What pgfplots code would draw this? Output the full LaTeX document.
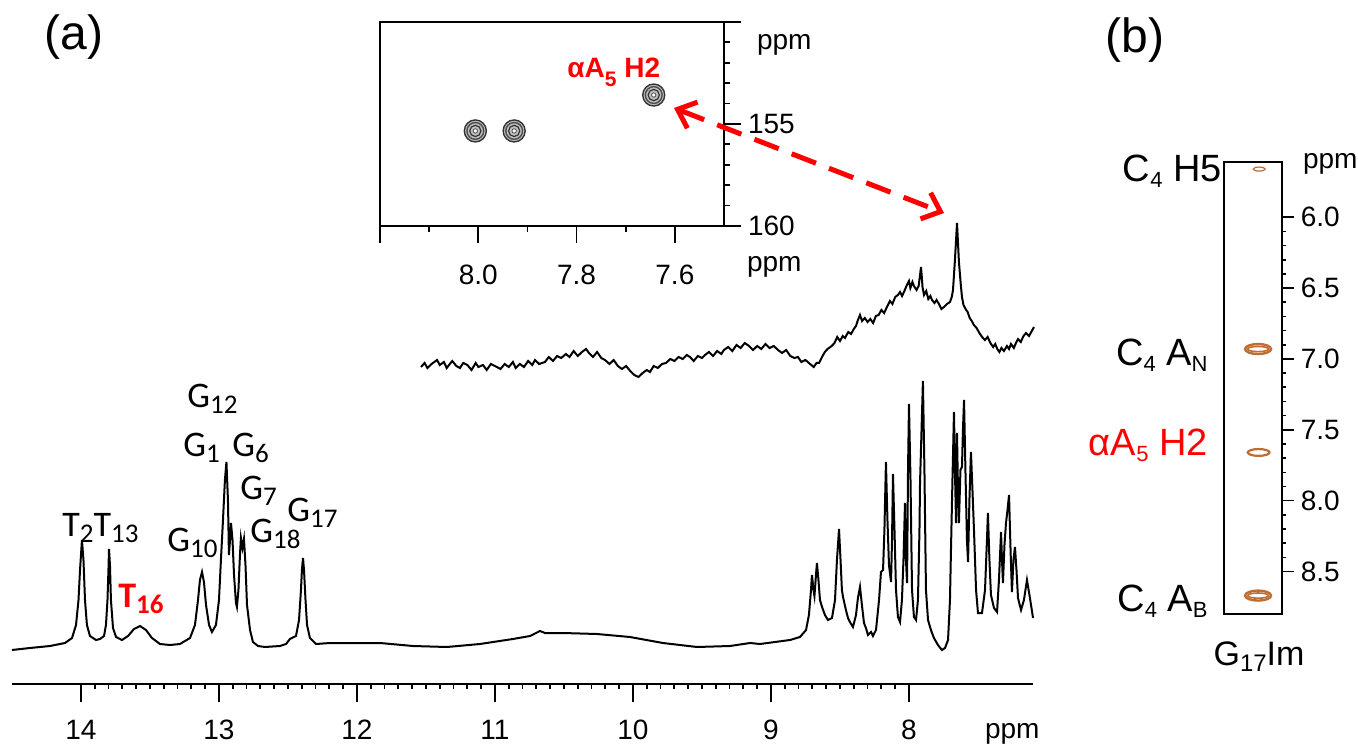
\documentclass[border=0pt]{standalone}
\usepackage{fontspec}
\setmainfont{Liberation Sans}
\newfontfamily\calib{Carlito}
\usepackage{pgfplots}
\pgfplotsset{compat=1.18}
\usetikzlibrary{arrows.meta}
\definecolor{brn}{RGB}{190,110,50}
\newcommand{\lab}[2]{#1\raisebox{-3pt}{\fontsize{13.5}{13.5}\selectfont #2}}
\begin{document}
\begin{tikzpicture}[x=0.5pt,y=-0.5pt]
\useasboundingbox (0,0) rectangle (1358,747);
% ---------------- main spectrum (a)
\begin{axis}[at={(6pt,-342pt)}, anchor=south west, scale only axis,
  width=510.6pt, height=242pt, xmin=7.1, xmax=14.5, ymin=63, ymax=547,
  x dir=reverse, axis x line=bottom, hide y axis,
  x axis line style={-, line width=1pt},
  xtick={8,...,14}, minor x tick num=9, tick align=outside,
  major tick length=9pt, minor tick length=2.5pt,
  every tick/.style={black, line width=0.9pt},
  /pgf/number format/assume math mode=true,
  xticklabel style={font=\fontsize{14}{14}\selectfont},
  xticklabel={\rule{0pt}{15pt}\pgfmathprintnumber{\tick}},
  clip=false]
\addplot[black, line width=1pt] coordinates {
(14.500,97) (14.370,99) (14.225,101) (14.116,104) (14.065,109) (14.036,122) (14.018,147) (14.007,177) (13.993,207) (13.982,187) (13.971,147) (13.957,122) (13.935,111) (13.891,107) (13.862,108) (13.833,111) (13.819,122) (13.808,147) (13.801,177) (13.797,198) (13.790,182) (13.783,147) (13.768,119) (13.746,110) (13.703,107) (13.659,111) (13.616,118) (13.572,121) (13.529,117) (13.486,109) (13.428,103) (13.355,102) (13.283,103) (13.210,109) (13.174,122) (13.152,147) (13.138,167) (13.123,175) (13.109,165) (13.094,142) (13.072,122) (13.051,115) (13.022,122) (13.000,147) (12.986,187) (12.971,227) (12.957,267) (12.946,285) (12.935,247) (12.928,192) (12.920,207) (12.913,224) (12.902,207) (12.891,172) (12.877,144) (12.870,140) (12.859,157) (12.848,192) (12.841,209) (12.830,199) (12.819,208) (12.808,182) (12.797,142) (12.775,117) (12.754,105) (12.717,101) (12.667,100) (12.558,101) (12.514,103) (12.486,108) (12.442,111) (12.420,127) (12.406,157) (12.399,177) (12.391,189) (12.384,177) (12.373,147) (12.362,122) (12.341,109) (12.297,103) (12.196,104) (11.833,104) (11.594,101) (11.348,100) (11.109,103) (10.870,108) (10.746,111) (10.674,116) (10.638,114) (10.507,114) (10.261,113) (10.022,110) (9.783,104) (9.536,100) (9.297,101) (9.152,104) (9.080,103) (8.862,107) (8.790,110) (8.746,117) (8.725,132) (8.710,157) (8.703,172) (8.692,157) (8.685,151) (8.674,172) (8.667,184) (8.656,167) (8.645,147) (8.630,140) (8.609,132) (8.587,127) (8.558,129) (8.536,147) (8.522,187) (8.507,218) (8.496,187) (8.486,157) (8.478,150) (8.457,137) (8.442,129) (8.428,125) (8.406,120) (8.384,132) (8.370,149) (8.355,160) (8.341,142) (8.326,124) (8.312,119) (8.297,112) (8.275,115) (8.261,111) (8.239,117) (8.217,147) (8.203,175) (8.188,177) (8.178,217) (8.167,285) (8.156,227) (8.145,182) (8.130,165) (8.123,207) (8.116,273) (8.105,217) (8.094,157) (8.080,130) (8.065,125) (8.051,147) (8.040,187) (8.029,244) (8.022,187) (8.014,164) (8.007,277) (8.000,343) (7.989,267) (7.978,157) (7.964,130) (7.949,127) (7.935,147) (7.924,217) (7.920,264) (7.909,317) (7.899,366) (7.888,277) (7.877,157) (7.862,127) (7.841,117) (7.819,109) (7.790,102) (7.761,97) (7.739,99) (7.717,107) (7.703,147) (7.696,195) (7.685,267) (7.674,335) (7.667,277) (7.659,224) (7.652,314) (7.645,257) (7.638,224) (7.627,277) (7.616,280) (7.609,317) (7.601,347) (7.591,277) (7.580,207) (7.572,185) (7.562,247) (7.551,295) (7.540,257) (7.529,217) (7.514,157) (7.500,134) (7.471,134) (7.449,157) (7.435,207) (7.428,234) (7.417,187) (7.406,152) (7.384,139) (7.362,135) (7.348,167) (7.333,215) (7.326,187) (7.319,164) (7.308,202) (7.297,224) (7.286,237) (7.275,252) (7.264,197) (7.254,155) (7.243,187) (7.232,200) (7.221,177) (7.210,149) (7.188,137) (7.167,147) (7.145,167) (7.127,152) (7.101,129)
};
\addplot[black, line width=1pt] coordinates {
(11.536,380) (11.51,384) (11.49,379) (11.46,383) (11.42,387) (11.40,382) (11.37,385) (11.35,379) (11.31,386) (11.28,381) (11.254,379) (11.23,384) (11.20,382) (11.17,377) (11.14,384) (11.12,380) (11.087,382) (11.06,377) (11.03,383) (11.00,381) (10.96,378) (10.93,383) (10.90,380) (10.87,385) (10.85,379) (10.82,383) (10.790,380) (10.76,386) (10.73,382) (10.71,387) (10.68,383) (10.638,385) (10.61,390) (10.58,386) (10.55,391) (10.52,389) (10.486,393) (10.46,390) (10.43,396) (10.40,391) (10.37,395) (10.34,398) (10.319,394) (10.29,390) (10.26,395) (10.23,389) (10.203,387) (10.17,383) (10.14,387) (10.11,381) (10.08,378) (10.05,381) (10.02,376) (9.99,372) (9.96,370) (9.93,374) (9.90,377) (9.877,375) (9.85,381) (9.82,379) (9.79,383) (9.761,384) (9.73,388) (9.70,386) (9.67,390) (9.64,388) (9.61,392) (9.587,390) (9.56,386) (9.53,391) (9.50,389) (9.478,392) (9.45,395) (9.42,391) (9.39,396) (9.36,393) (9.341,397) (9.31,400) (9.28,396) (9.25,402) (9.22,399) (9.19,404) (9.159,401) (9.13,397) (9.10,401) (9.07,398) (9.04,403) (9.01,399) (8.98,401) (8.949,397) (8.92,394) (8.89,397) (8.86,391) (8.83,389) (8.804,390) (8.78,385) (8.75,387) (8.717,383) (8.69,380) (8.67,384) (8.652,384) (8.63,390) (8.61,395) (8.590,398) (8.56,401) (8.54,404) (8.52,410) (8.50,406) (8.48,411) (8.464,409) (8.44,415) (8.42,413) (8.40,418) (8.384,421) (8.37,427) (8.355,432) (8.34,426) (8.32,429) (8.30,425) (8.28,428) (8.26,424) (8.24,431) (8.22,432) (8.20,437) (8.18,434) (8.16,440) (8.138,446) (8.12,443) (8.10,450) (8.08,452) (8.065,455) (8.05,451) (8.03,457) (8.015,462) (8.00,466) (7.99,459) (7.975,465) (7.964,461) (7.945,457) (7.93,461) (7.918,474) (7.913,480) (7.907,470) (7.902,460) (7.891,452) (7.875,456) (7.86,448) (7.845,451) (7.833,447) (7.815,444) (7.80,447) (7.783,443) (7.765,438) (7.746,440) (7.725,443) (7.703,445) (7.690,450) (7.681,457) (7.667,487) (7.652,524) (7.638,485) (7.625,463) (7.616,450) (7.605,442) (7.59,438) (7.575,435) (7.56,429) (7.545,426) (7.53,422) (7.51,419) (7.49,414) (7.47,410) (7.45,407) (7.43,410) (7.41,404) (7.39,400) (7.375,403) (7.36,398) (7.345,395) (7.33,399) (7.312,396) (7.29,401) (7.275,398) (7.261,403) (7.24,399) (7.225,404) (7.21,408) (7.19,405) (7.17,411) (7.152,414) (7.13,411) (7.11,416) (7.094,420)
};
\end{axis}
% ---------------- inset
\begin{axis}[at={(190pt,-113pt)}, anchor=south west, scale only axis,
  width=172pt, height=102pt, xmin=7.5, xmax=8.2, ymin=150, ymax=160,
  x dir=reverse, y dir=reverse, axis line style={line width=1pt},
  xtick={8.2,8.0,7.8,7.6},
  xticklabels={,\rule{0pt}{17pt}8.0,\rule{0pt}{17pt}7.8,\rule{0pt}{17pt}7.6},
  minor xtick={8.1,7.9,7.7},
  ytick={150,155,160}, yticklabels={,155,160}, minor ytick={151,152,153,154,156,157,158,159},
  xtick pos=left, ytick pos=right, tick align=outside,
  major tick length=8.5pt, minor tick length=3pt,
  every tick/.style={black, line width=0.9pt},
  ticklabel style={font=\fontsize{14}{14}\selectfont}]
\addplot[only marks, mark=*, mark size=5.5pt, mark options={fill=gray!50, draw=black!80, line width=0.7pt}] coordinates {(8.006,155.34) (7.927,155.34) (7.643,153.58)};
\addplot[only marks, mark=o, mark size=4.2pt, mark options={draw=black!70, line width=0.7pt}] coordinates {(8.006,155.34) (7.927,155.34) (7.643,153.58)};
\addplot[only marks, mark=o, mark size=2.8pt, mark options={draw=black!80, line width=0.6pt}] coordinates {(8.006,155.34) (7.927,155.34) (7.643,153.58)};
\addplot[only marks, mark=*, mark size=1.1pt, mark options={fill=white, draw=black!70, line width=0.4pt}] coordinates {(8.006,155.34) (7.927,155.34) (7.643,153.58)};
\end{axis}
% ---------------- panel (b)
\begin{axis}[at={(612pt,-307pt)}, anchor=south west, scale only axis,
  width=28.85pt, height=226pt, xmin=0, xmax=1, ymin=5.61, ymax=8.80,
  y dir=reverse, xtick=\empty, axis line style={line width=0.9pt},
  ytick={6,6.5,7,7.5,8,8.5}, yticklabels={6.0,6.5,7.0,7.5,8.0,8.5},
  minor y tick num=4, ytick pos=right, tick align=outside,
  major tick length=6pt, minor tick length=2pt,
  every tick/.style={black, line width=0.8pt},
  ticklabel style={font=\fontsize{14}{14}\selectfont}]
\addplot[only marks, mark=o, mark size=2.5pt, mark options={xscale=2.6, draw=brn, line width=1.2pt}] coordinates {(0.59,6.93) (0.59,8.67)};
\addplot[only marks, mark=o, mark size=1.3pt, mark options={xscale=4, draw=brn, line width=0.8pt}] coordinates {(0.59,6.93) (0.59,8.67)};
\addplot[only marks, mark=o, mark size=1.7pt, mark options={xscale=3.2, draw=brn, line width=1.1pt}] coordinates {(0.60,7.66)};
\addplot[only marks, mark=o, mark size=1pt, mark options={xscale=3, draw=brn, line width=0.6pt}] coordinates {(0.61,5.66)};
\end{axis}
% ---------------- annotations
\node[font=\fontsize{24}{24}\selectfont] at (74,37) {(a)};
\node[font=\fontsize{24}{24}\selectfont] at (1135,40) {(b)};
\node[anchor=base west, font=\fontsize{14}{14}\selectfont] at (978,738) {ppm};
\node[anchor=west, font=\fontsize{14}{14}\selectfont] at (750,45) {ppm};
\node[anchor=west, font=\fontsize{14}{14}\selectfont] at (740,267) {ppm};
\node[anchor=base west, inner sep=0pt, text=red, font=\bfseries\fontsize{14}{14}\selectfont] at (567,78) {αA\raisebox{-4.5pt}{\fontsize{10.5}{10.5}\selectfont 5} H2};
\draw[red, line width=2.5pt, dash pattern=on 13pt off 7pt,
  {Straight Barb[length=8pt,width=14pt]}-{Straight Barb[length=8pt,width=14pt]}] (674,108) -- (944,213);
% peak labels
\begin{scope}[every node/.style={anchor=base west, inner sep=0pt, font=\calib\fontsize{18}{18}\selectfont}]
\node at (62,537) {\lab{T}{2}\lab{T}{13}};
\node at (187,408) {\lab{G}{12}};
\node at (183,457) {\lab{G}{1}};
\node at (232,457) {\lab{G}{6}};
\node at (240,500) {\lab{G}{7}};
\node at (250,543) {\lab{G}{18}};
\node at (287,522) {\lab{G}{17}};
\node at (167,552) {\lab{G}{10}};
\node[text=red, font=\calib\bfseries\fontsize{18}{18}\selectfont] at (118,607) {\lab{T}{\bfseries 16}};
\end{scope}
% panel b labels
\begin{scope}[every node/.style={anchor=base east, inner sep=0pt, font=\fontsize{19}{19}\selectfont}]
\node at (1222,182) {C\raisebox{-3pt}{\fontsize{11}{11}\selectfont 4} H5};
\node at (1208,366) {C\raisebox{-3pt}{\fontsize{11}{11}\selectfont 4} A\raisebox{-3pt}{\fontsize{11}{11}\selectfont N}};
\node[text=red] at (1208,456) {αA\raisebox{-3pt}{\fontsize{11}{11}\selectfont 5} H2};
\node at (1208,611) {C\raisebox{-3pt}{\fontsize{11}{11}\selectfont 4} A\raisebox{-3pt}{\fontsize{11}{11}\selectfont B}};
\end{scope}
\node[anchor=west, font=\fontsize{14}{14}\selectfont] at (1296,164) {ppm};
\node[anchor=base, font=\fontsize{17}{17}\selectfont] at (1259,665) {G\raisebox{-3pt}{\fontsize{12}{12}\selectfont 17}Im};
\end{tikzpicture}
\end{document}
